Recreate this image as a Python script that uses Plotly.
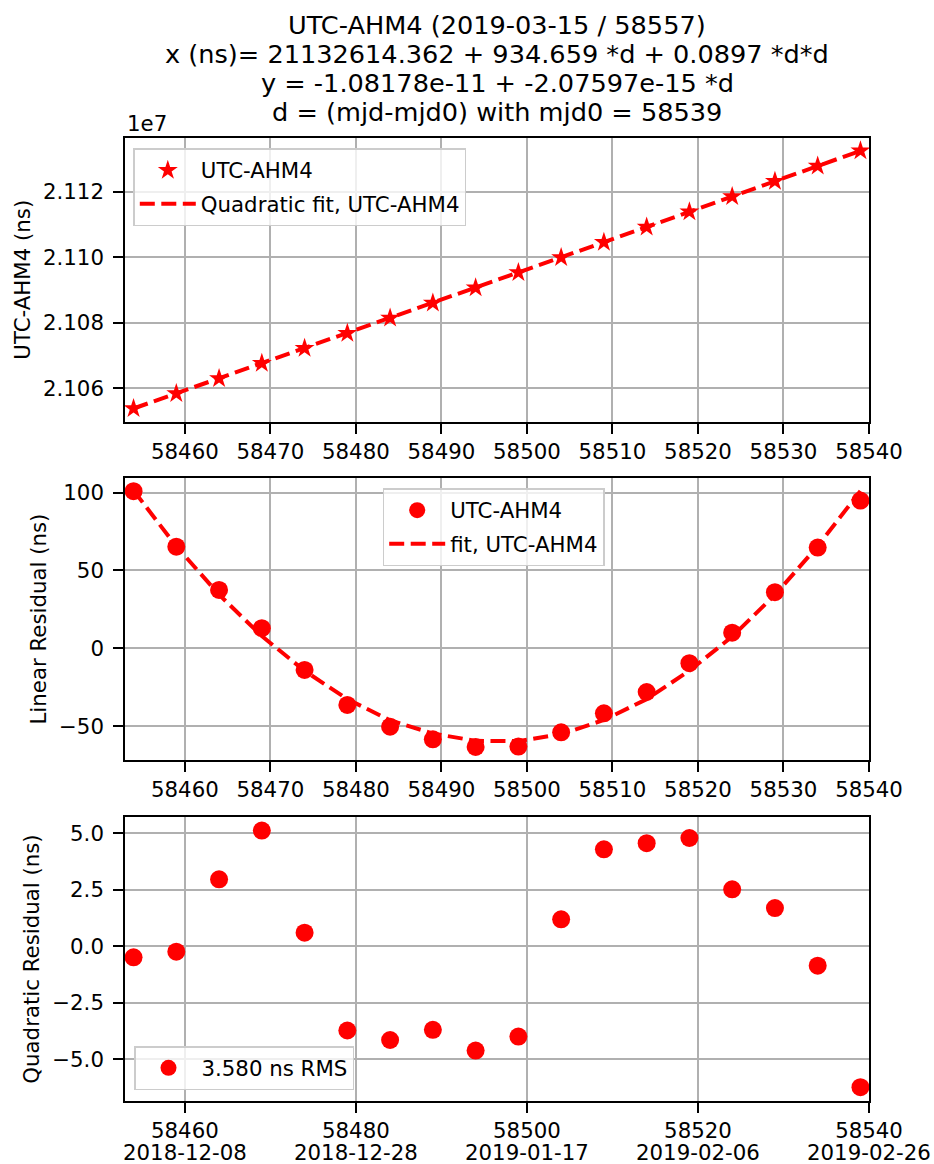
import plotly.graph_objects as go

# ---------------- data ----------------
mjd = [58454, 58459, 58464, 58469, 58474, 58479, 58484, 58489, 58494,
       58499, 58504, 58509, 58514, 58519, 58524, 58529, 58534, 58539]

utc_ahm4 = [21053816.0, 21058415.6, 21063022.6, 21067632.9, 21072241.2,
            21076854.1, 21081475.3, 21086102.0, 21090731.7, 21095367.5,
            21100012.4, 21104659.6, 21109308.6, 21113961.9, 21118617.2,
            21123278.5, 21127942.4, 21132608.1]

quad_fit = [21053816.5, 21058415.8, 21063019.6, 21067627.8, 21072240.6,
            21076857.8, 21081479.5, 21086105.7, 21090736.3, 21095371.5,
            21100011.2, 21104655.3, 21109304.0, 21113957.1, 21118614.7,
            21123276.8, 21127943.3, 21132614.4]

lin_resid = [100.9, 65.3, 37.5, 12.9, -13.9, -36.4, -50.4, -58.5, -63.4,
             -63.2, -54.0, -41.8, -28.1, -9.6, 10.0, 36.0, 64.7, 94.9]

lin_fit = [101.4, 65.5, 34.5, 7.8, -14.5, -32.7, -46.3, -54.8, -59.5,
           -59.7, -55.2, -46.1, -32.7, -14.4, 7.5, 34.3, 65.6, 101.1]

quad_resid = [-0.49, -0.24, 2.96, 5.12, 0.60, -3.73, -4.15, -3.70, -4.62,
              -4.00, 1.19, 4.29, 4.56, 4.79, 2.52, 1.69, -0.86, -6.24]

x_ticks_12 = [58460, 58470, 58480, 58490, 58500, 58510, 58520, 58530, 58540]
x_ticks_3 = [58460, 58480, 58500, 58520, 58540]
x_dates_3 = ["2018-12-08", "2018-12-28", "2019-01-17", "2019-02-06", "2019-02-26"]

y1_ticks = [2.106e7, 2.108e7, 2.110e7, 2.112e7]
y1_text = ["2.106", "2.108", "2.110", "2.112"]
y2_ticks = [-50, 0, 50, 100]
y2_text = ["\u221250", "0", "50", "100"]
y3_ticks = [-5.0, -2.5, 0.0, 2.5, 5.0]
y3_text = ["\u22125.0", "\u22122.5", "0.0", "2.5", "5.0"]

title_lines = ["UTC-AHM4 (2019-03-15 / 58557)",
               "x (ns)= 21132614.362 + 934.659 *d + 0.0897 *d*d",
               "y = -1.08178e-11 + -2.07597e-15 *d",
               "d = (mjd-mjd0) with mjd0 = 58539"]

rms_label = "3.580 ns RMS"

# ---------------- layout geometry ----------------
W, H = 934, 1164
L, R, T, B = 125, 869, 138, 1101
PW, PH = R - L, B - T


def py(p):
    return (B - p) / PH


def px(p):
    return (p - L) / PW


RED = "#ff0000"
FONT = "DejaVu Sans"
DASH = "15px,6.5px"
FS = 21.3
TFS = 25.6

fig = go.Figure()

fig.add_trace(go.Scatter(x=mjd, y=utc_ahm4, mode="markers", name="UTC-AHM4",
                         marker=dict(symbol="star", size=15, color=RED),
                         xaxis="x", yaxis="y", legend="legend", legendgroup="a"))
fig.add_trace(go.Scatter(x=mjd, y=quad_fit, mode="lines", name="Quadratic fit, UTC-AHM4",
                         line=dict(color=RED, width=4, dash=DASH),
                         xaxis="x", yaxis="y", legend="legend", legendgroup="b"))

fig.add_trace(go.Scatter(x=mjd, y=lin_resid, mode="markers", name="UTC-AHM4",
                         marker=dict(symbol="circle", size=18, color=RED),
                         xaxis="x2", yaxis="y2", legend="legend2", legendgroup="c"))
fig.add_trace(go.Scatter(x=mjd, y=lin_fit, mode="lines", name="fit, UTC-AHM4",
                         line=dict(color=RED, width=4, dash=DASH),
                         xaxis="x2", yaxis="y2", legend="legend2", legendgroup="d"))

fig.add_trace(go.Scatter(x=mjd, y=quad_resid, mode="markers", name=rms_label,
                         marker=dict(symbol="circle", size=18, color=RED),
                         xaxis="x3", yaxis="y3", legend="legend3", legendgroup="e"))

axis_common = dict(showline=True, linecolor="black", linewidth=1.6, mirror=True,
                   showgrid=True, gridcolor="#b0b0b0", gridwidth=1.6,
                   zeroline=False, ticks="outside", ticklen=10, tickwidth=1.6,
                   tickcolor="black", tickfont=dict(family=FONT, size=FS, color="black"))

xr = [58453, 58540]

legend_common = dict(bgcolor="rgba(255,255,255,0.8)", bordercolor="#cccccc",
                     borderwidth=1.5, font=dict(family=FONT, size=FS, color="black"),
                     traceorder="grouped", tracegroupgap=3, itemwidth=56,
                     xanchor="left")

fig.update_layout(
    width=W, height=H,
    margin=dict(l=L, r=W - R, t=T, b=H - B, autoexpand=False),
    paper_bgcolor="white", plot_bgcolor="white",
    font=dict(family=FONT, size=FS, color="black"),
    xaxis=dict(axis_common, domain=[0, 1], anchor="y", range=xr,
               tickvals=x_ticks_12, ticktext=[str(v) for v in x_ticks_12]),
    yaxis=dict(axis_common, domain=[py(422), 1], anchor="x", ticklabelstandoff=5,
               range=[21049694, 21136514], tickvals=y1_ticks, ticktext=y1_text),
    xaxis2=dict(axis_common, domain=[0, 1], anchor="y2", range=xr,
                tickvals=x_ticks_12, ticktext=[str(v) for v in x_ticks_12]),
    yaxis2=dict(axis_common, domain=[py(760), py(478)], anchor="x2", ticklabelstandoff=5,
                range=[-71.8, 109.4], tickvals=y2_ticks, ticktext=y2_text),
    xaxis3=dict(axis_common, domain=[0, 1], anchor="y3", range=xr,
                tickvals=x_ticks_3, ticktext=[str(v) for v in x_ticks_3]),
    yaxis3=dict(axis_common, domain=[0, py(817)], anchor="x3", ticklabelstandoff=5,
                range=[-6.85, 5.72], tickvals=y3_ticks, ticktext=y3_text),
    legend=dict(legend_common, x=px(133.3), y=py(148.3), yanchor="top"),
    legend2=dict(legend_common, x=px(382.7), y=py(488.3), yanchor="top"),
    legend3=dict(legend_common, x=px(134), y=py(1090), yanchor="bottom"),
    showlegend=True,
)

annotations = []
for line, ypix in zip(title_lines, [25, 54, 83, 112]):
    annotations.append(dict(text=line, xref="paper", yref="paper", x=0.5, y=py(ypix),
                            xanchor="center", yanchor="middle", showarrow=False,
                            font=dict(family=FONT, size=TFS, color="black")))
annotations.append(dict(text="1e7", xref="paper", yref="paper", x=0, y=py(123),
                        xanchor="left", yanchor="middle", showarrow=False,
                        font=dict(family=FONT, size=FS, color="black")))
for label, xpix, ypix in [("UTC-AHM4 (ns)", 21.7, 280),
                          ("Linear Residual (ns)", 37.5, 619),
                          ("Quadratic Residual (ns)", 30.7, 959)]:
    annotations.append(dict(text=label, xref="paper", yref="paper", x=px(xpix), y=py(ypix),
                            xanchor="center", yanchor="middle", textangle=-90,
                            showarrow=False, font=dict(family=FONT, size=FS, color="black")))
# calendar dates under the MJD tick labels of the bottom axis
for v, d in zip(x_ticks_3, x_dates_3):
    annotations.append(dict(text=d, xref="x3", yref="paper", x=v, y=py(1152.5),
                            xanchor="center", yanchor="middle", showarrow=False,
                            font=dict(family=FONT, size=FS, color="black")))
fig.update_layout(annotations=annotations)

fig.write_html("out.html", config={"displayModeBar": False},
               post_script="document.body.style.margin='0';")
